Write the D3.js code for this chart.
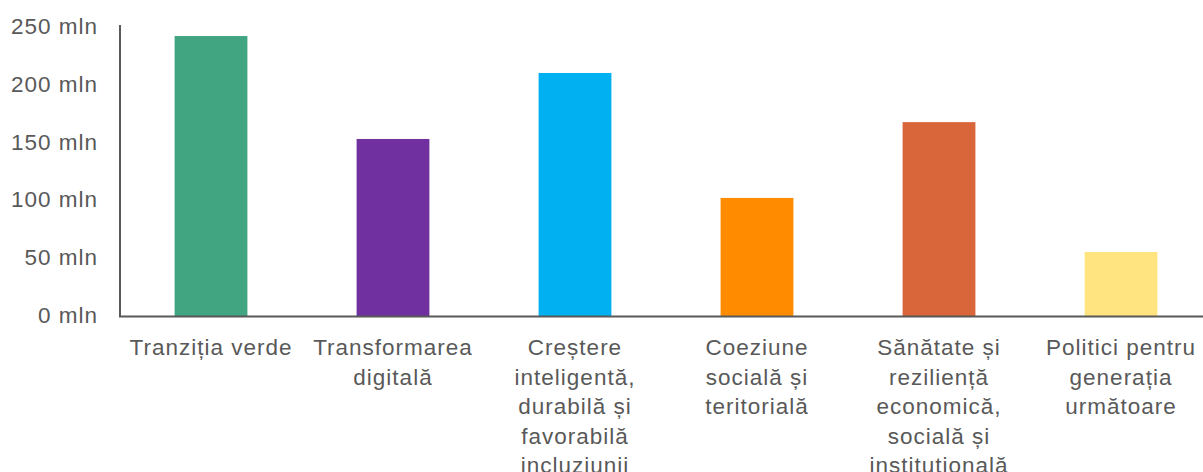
<!DOCTYPE html>
<html><head><meta charset="utf-8">
<script src="https://cdn.jsdelivr.net/npm/d3@7"></script>
<style>body{margin:0;background:#fff;}svg{display:block;}</style>
</head><body>
<svg id="c" width="1203" height="472"></svg>
<script>
const categories = ["Tranziția verde","Transformarea digitală","Creștere inteligentă, durabilă și favorabilă incluziunii","Coeziune socială și teritorială","Sănătate și reziliență economică, socială și institutională","Politici pentru generația următoare"];
const labelLines = [
  ["Tranziția verde"],
  ["Transformarea","digitală"],
  ["Creștere","inteligentă,","durabilă și","favorabilă","incluziunii"],
  ["Coeziune","socială și","teritorială"],
  ["Sănătate și","reziliență","economică,","socială și","institutională"],
  ["Politici pentru","generația","următoare"]
];
const values = [242.6, 153.4, 210.6, 102.3, 168.0, 55.5];
const colors = ["#41A582","#7030A0","#00B0F0","#FF8C00","#D9653B","#FFE47F"];
const yTicks = [0,50,100,150,200,250];
const tickSuffix = " mln";

const svg = d3.select("#c");
const mLeft = 120, mRight = 1212, mTop = 27.5, mBottom = 316;
const x = d3.scaleBand().domain(categories).range([mLeft,mRight]).paddingInner(0.6).paddingOuter(0.3);
const y = d3.scaleLinear().domain([0,250]).range([mBottom, mTop]);

const font = "'Liberation Sans', Arial, sans-serif";
const txt = "#595959";
const fs = 22.5, ls = "1px";

// bars
svg.selectAll("rect.bar").data(categories).join("rect")
  .attr("class","bar")
  .attr("x", d=>x(d)).attr("width", x.bandwidth())
  .attr("y", (d,i)=>y(values[i])).attr("height",(d,i)=>y(0)-y(values[i]))
  .attr("fill",(d,i)=>colors[i]);

// y axis
const ya = svg.append("g").attr("transform",`translate(${mLeft},0)`)
  .call(d3.axisLeft(y).tickValues(yTicks).tickSize(0).tickPadding(22).tickFormat(d=>d+tickSuffix));
ya.select(".domain").attr("stroke","#595959").attr("stroke-width",2).attr("d",`M0,${mTop-2.5}V${mBottom}`);
ya.selectAll("text").attr("fill",txt).attr("font-family",font).attr("font-size",fs).attr("letter-spacing",ls).attr("dy","0.28em");

// baseline
svg.append("line").attr("x1",mLeft-1).attr("x2",1203).attr("y1",mBottom+0.5).attr("y2",mBottom+0.5)
  .attr("stroke","#595959").attr("stroke-width",2);

// x labels
const xl = svg.append("g");
categories.forEach((c,i)=>{
  const cx = x(c)+x.bandwidth()/2;
  const t = xl.append("text").attr("x", cx).attr("y", 355)
    .attr("text-anchor","middle").attr("fill",txt).attr("font-family",font)
    .attr("font-size",fs).attr("letter-spacing",ls);
  labelLines[i].forEach((l,j)=>{
    t.append("tspan").attr("x", cx).attr("dy", j===0?0:29.6).text(l);
  });
});
</script>
</body></html>
